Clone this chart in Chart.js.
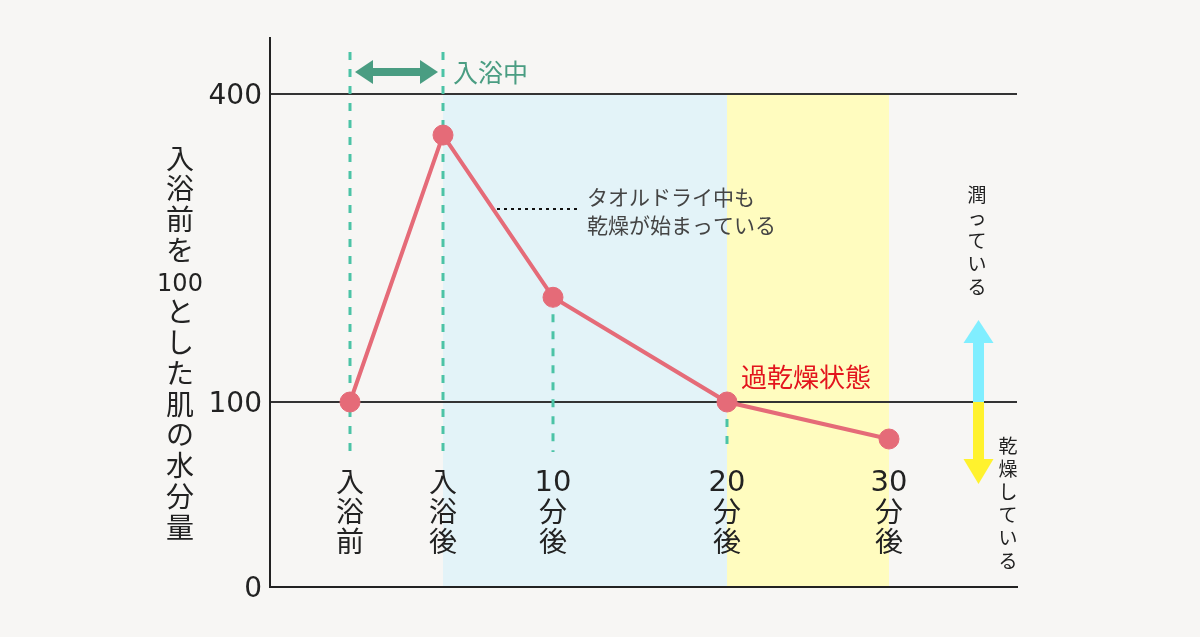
<!DOCTYPE html>
<html lang="ja">
<head>
<meta charset="utf-8">
<script src="https://cdn.jsdelivr.net/npm/chart.js@4.4.0/dist/chart.umd.min.js"></script>
<style>
  html, body { margin: 0; padding: 0; background: #f7f6f4; }
</style>
</head>
<body>
<canvas id="myChart" width="1200" height="637"></canvas>
<script>
// categories (stacked vertically under each point)
var labels = [['入', '浴', '前'], ['入', '浴', '後'], ['10', '分', '後'], ['20', '分', '後'], ['30', '分', '後']];
// position of each category along the (uneven) time line
var timeline = [8, 17.3, 28.3, 45.7, 61.9];
// skin moisture, before bath = 100
var moisture = [100, 360, 202, 100, 80];
var yTicks = [0, 100, 400];

var font = '"Noto Sans CJK JP", "Noto Sans", sans-serif';
var numFont = '"DejaVu Sans", "Noto Sans", sans-serif';

// the y axis is not linear: 0-100 takes a bigger share than 100-400
var breakValues = [0, 100, 400, 455];
var breakFracs = [0, 185 / 549, 493 / 549, 1];

class PiecewiseScale extends Chart.LinearScale {
  getPixelForValue(v) {
    var f = 0;
    for (var i = 1; i < breakValues.length; i++) {
      if (v <= breakValues[i] || i == breakValues.length - 1) {
        var t = (v - breakValues[i - 1]) / (breakValues[i] - breakValues[i - 1]);
        f = breakFracs[i - 1] + t * (breakFracs[i] - breakFracs[i - 1]);
        break;
      }
    }
    return this.bottom - f * (this.bottom - this.top);
  }
  getValueForPixel(p) {
    var f = (this.bottom - p) / (this.bottom - this.top);
    for (var i = 1; i < breakFracs.length; i++) {
      if (f <= breakFracs[i] || i == breakFracs.length - 1) {
        var t = (f - breakFracs[i - 1]) / (breakFracs[i] - breakFracs[i - 1]);
        return breakValues[i - 1] + t * (breakValues[i] - breakValues[i - 1]);
      }
    }
  }
}
PiecewiseScale.id = 'piecewise';
PiecewiseScale.defaults = Chart.LinearScale.defaults;
Chart.register(PiecewiseScale);

// draw characters top to bottom; digit groups use the wider number font
function vtext(ctx, chars, x, y0, step, size, numSize, numDy) {
  for (var i = 0; i < chars.length; i++) {
    var y = y0 + i * step;
    if (/^\d+$/.test(chars[i])) {
      ctx.font = numSize + 'px ' + numFont;
      y += numDy || 0;
    } else {
      ctx.font = size + 'px ' + font;
    }
    ctx.fillText(chars[i], x, y);
  }
}

function arrowHead(ctx, x, tipY, baseY, halfW) {
  ctx.beginPath();
  ctx.moveTo(x, tipY);
  ctx.lineTo(x + halfW, baseY);
  ctx.lineTo(x - halfW, baseY);
  ctx.closePath();
  ctx.fill();
}

var bands = {
  id: 'bands',
  beforeDraw: function (chart) {
    var c = chart.ctx, xs = chart.scales.x, ys = chart.scales.y;
    var top = ys.getPixelForValue(400), bottom = ys.getPixelForValue(0);
    var x1 = xs.getPixelForValue(timeline[1]);
    var x3 = xs.getPixelForValue(timeline[3]);
    var x4 = xs.getPixelForValue(timeline[4]);
    c.save();
    c.fillStyle = '#e3f3f8';
    c.fillRect(x1, top, x3 - x1, bottom - top);
    c.fillStyle = '#fffcbf';
    c.fillRect(x3, top, x4 - x3, bottom - top);
    c.restore();
  }
};

var decor = {
  id: 'decor',
  beforeDatasetsDraw: function (chart) {
    var c = chart.ctx, xs = chart.scales.x, ys = chart.scales.y;
    var px = timeline.map(function (t) { return xs.getPixelForValue(t); });
    var py = moisture.map(function (v) { return ys.getPixelForValue(v); });
    var dashBottom = 452;
    c.save();
    // dashed guides
    c.strokeStyle = '#4cc3a6';
    c.lineWidth = 3;
    c.setLineDash([8, 9]);
    var tops = [52, 52, py[2], py[3]];
    for (var i = 0; i < tops.length; i++) {
      c.beginPath();
      c.moveTo(px[i], tops[i]);
      c.lineTo(px[i], dashBottom);
      c.stroke();
    }
    // dotted pointer to the note
    c.strokeStyle = '#111';
    c.lineWidth = 2;
    c.setLineDash([3, 4]);
    c.beginPath();
    c.moveTo(497, 209);
    c.lineTo(579, 209);
    c.stroke();
    c.restore();
  },
  afterDraw: function (chart) {
    var c = chart.ctx, xs = chart.scales.x;
    var px = timeline.map(function (t) { return xs.getPixelForValue(t); });
    c.save();
    c.textAlign = 'center';
    c.textBaseline = 'middle';

    // category labels
    c.fillStyle = '#222';
    for (var i = 0; i < labels.length; i++) {
      vtext(c, labels[i], px[i], 481, 30, 28, 29, 2);
    }

    // y axis title, written top to bottom
    vtext(c, ['入', '浴', '前', 'を', '100', 'と', 'し', 'た', '肌', 'の', '水', '分', '量'], 180, 158, 30.75, 28, 24, 4);

    // bath time arrow
    c.fillStyle = '#4a9d82';
    c.fillRect(368, 68, 57, 8);
    c.beginPath();
    c.moveTo(355, 72); c.lineTo(373, 60); c.lineTo(373, 84); c.closePath(); c.fill();
    c.beginPath();
    c.moveTo(438, 72); c.lineTo(420, 60); c.lineTo(420, 84); c.closePath(); c.fill();
    c.textAlign = 'left';
    c.font = '25px ' + font;
    c.fillText('入浴中', 453, 72);

    // note
    c.fillStyle = '#444';
    c.font = '21px ' + font;
    c.fillText('タオルドライ中も', 587, 197);
    c.fillText('乾燥が始まっている', 587, 225);

    // over-dry label
    c.fillStyle = '#e3141d';
    c.font = '26px ' + font;
    c.fillText('過乾燥状態', 741, 377);

    // moist / dry arrows
    c.fillStyle = '#80eeff';
    c.fillRect(973, 342, 11, 60);
    arrowHead(c, 978.5, 320, 343, 15);
    c.fillStyle = '#fff22e';
    c.fillRect(973, 402, 11, 58);
    arrowHead(c, 978.5, 484, 459, 15);

    c.textAlign = 'center';
    c.fillStyle = '#222';
    vtext(c, ['潤', 'っ', 'て', 'い', 'る'], 977, 195, 23, 19, 19, 0);
    vtext(c, ['乾', '燥', 'し', 'て', 'い', 'る'], 1008, 446, 23, 19, 19, 0);
    c.restore();
  }
};

var ctx = document.getElementById('myChart').getContext('2d');
var myChart = new Chart(ctx, {
  type: 'line',
  data: {
    datasets: [{
      label: '肌の水分量',
      data: timeline.map(function (t, i) { return { x: t, y: moisture[i] }; }),
      borderColor: '#e56b78',
      backgroundColor: '#e56b78',
      borderWidth: 4,
      pointRadius: 10,
      pointBorderWidth: 1,
      pointBackgroundColor: '#e56b78',
      pointBorderColor: '#e56b78',
      tension: 0
    }]
  },
  options: {
    responsive: false,
    animation: false,
    layout: { padding: { top: 38, right: 183, left: 0, bottom: 0 } },
    plugins: {
      legend: { display: false },
      tooltip: { enabled: false }
    },
    scales: {
      x: {
        type: 'linear',
        min: 0,
        max: 74.7,
        grid: { display: false },
        ticks: { display: false },
        border: { display: true, color: '#222', width: 2 },
        afterFit: function (s) { s.height = 50; }
      },
      y: {
        type: 'piecewise',
        min: 0,
        max: 455,
        afterBuildTicks: function (s) {
          s.ticks = yTicks.map(function (v) { return { value: v }; });
        },
        afterFit: function (s) { s.width = 270; },
        grid: {
          drawTicks: false,
          lineWidth: 2,
          color: function (c) { return c.tick && c.tick.value === 0 ? 'rgba(0,0,0,0)' : '#333'; }
        },
        border: { display: true, color: '#222', width: 2 },
        ticks: {
          padding: 8,
          labelOffset: 3,
          color: '#222',
          font: { size: 28, family: numFont }
        }
      }
    }
  },
  plugins: [bands, decor]
});
</script>
</body>
</html>
